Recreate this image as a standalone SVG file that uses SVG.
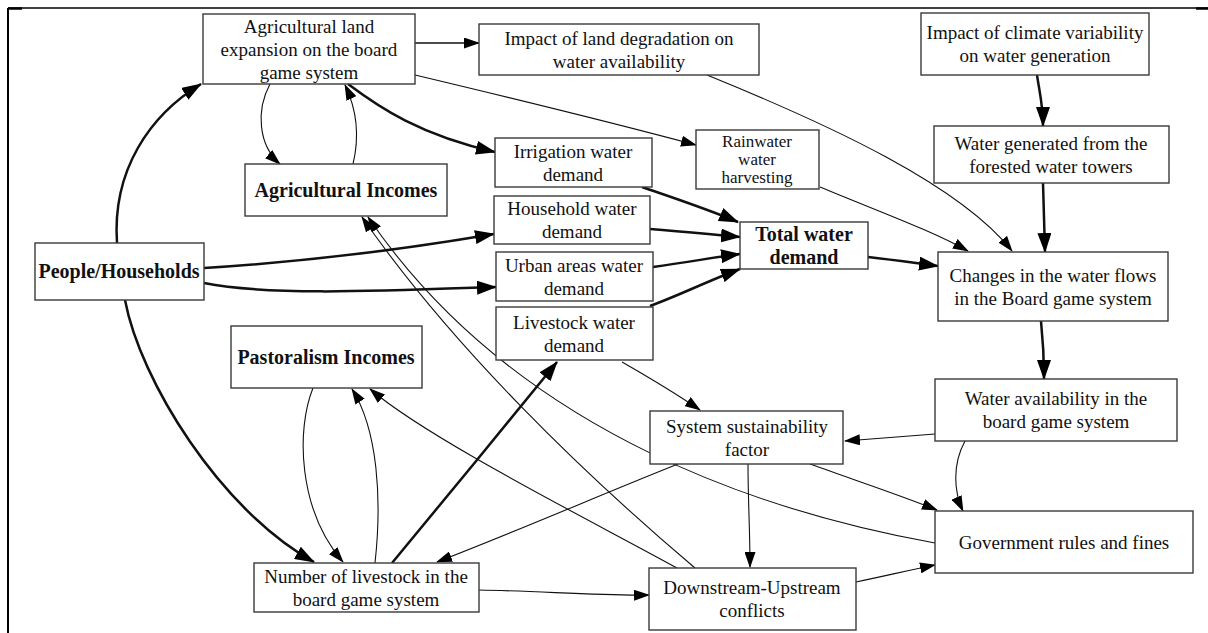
<svg xmlns="http://www.w3.org/2000/svg" width="1208" height="633" viewBox="0 0 1208 633">
<style>
.n rect{fill:#fff;stroke:#3a3a3a;stroke-width:1.4}
.n text{font-family:"Liberation Serif","Times New Roman",serif;font-size:19px;fill:#111;text-anchor:middle}
.n text.b{font-weight:bold;font-size:20px}
.n text.s{font-size:17px}
.e path{fill:none;stroke:#111}
.e .t{stroke-width:1.1;marker-end:url(#a)}
.e .k{stroke-width:2.5;marker-end:url(#b)}
</style>
<defs>
<marker id="a" markerWidth="16" markerHeight="11" refX="15" refY="5.5" orient="auto" markerUnits="userSpaceOnUse"><path d="M0,0 L16,5.5 L0,11 z" fill="#000"/></marker>
<marker id="b" markerWidth="20" markerHeight="14" refX="19" refY="7" orient="auto" markerUnits="userSpaceOnUse"><path d="M0,0 L20,7 L0,14 z" fill="#000"/></marker>
</defs>
<rect width="1208" height="633" fill="#fff"/>
<g id="frame" stroke="#000" fill="none">
<line x1="8" y1="8" x2="1208" y2="8" stroke-width="1.3"/>
<line x1="8" y1="8.5" x2="22" y2="8.5" stroke-width="2.5"/>
<line x1="1196" y1="8.5" x2="1208" y2="8.5" stroke-width="2.5"/>
<line x1="8" y1="8" x2="8" y2="633" stroke-width="2"/>
</g>
<g id="connectors" class="e">
<path class="k" d="M117,243 C112,170 150,115 201,84"/>
<path class="k" d="M125,300 C140,380 220,510 314,562"/>
<path class="k" d="M204,268 C300,262 400,250 494,234"/>
<path class="k" d="M204,283 C270,296 380,291 496,287"/>
<path class="t" d="M415,43 L479,43" style="stroke-width:1.4"/>
<path class="t" d="M270,84 C256,110 258,145 280,164"/>
<path class="t" d="M353,164 C360,135 357,110 345,85"/>
<path class="k" d="M348,84 C380,108 420,135 495,152"/>
<path class="t" d="M415,75 C520,100 610,122 696,145"/>
<path class="t" d="M707,75 C830,125 960,185 1012,251"/>
<path class="t" d="M820,187 C880,212 930,230 968,251"/>
<path class="k" d="M1037,75 C1040,95 1043,105 1043,126"/>
<path class="k" d="M1043,183 L1045,252"/>
<path class="k" d="M642,187 C680,200 710,210 738,222"/>
<path class="k" d="M650,229 C690,232 715,235 740,237"/>
<path class="k" d="M653,267 C690,262 715,257 740,254"/>
<path class="k" d="M650,306 C680,295 710,280 740,269"/>
<path class="k" d="M868,257 C895,260 915,263 938,266"/>
<path class="k" d="M1041,321 C1043,340 1044,360 1044,379"/>
<path class="t" d="M935,434 L845,441"/>
<path class="t" d="M965,441 C952,465 954,492 963,511"/>
<path class="t" d="M622,362 C650,378 675,393 700,410"/>
<path class="t" d="M810,464 C860,482 900,495 937,510"/>
<path class="t" d="M678,464 C600,495 520,530 437,562"/>
<path class="t" d="M748,464 C748,500 750,530 750,567"/>
<path class="t" d="M479,590 C540,591 600,596 649,595"/>
<path class="t" d="M856,582 C885,576 910,570 935,565"/>
<path class="k" d="M392,563 C440,505 510,420 557,362"/>
<path class="t" d="M375,563 C382,500 378,430 352,389"/>
<path class="t" d="M313,388 C296,430 298,510 343,562"/>
<path class="t" d="M677,568 C590,520 430,440 370,389"/>
<path class="t" d="M695,568 C585,475 452,347 362,217"/>
<path class="t" d="M935,543 C780,515 520,440 368,217"/>
</g>
<g id="n-agland" class="n"><rect x="203" y="14" width="212" height="70"/><text x="309" y="33">Agricultural land</text><text x="309" y="56">expansion on the board</text><text x="309" y="79">game system</text></g>
<g id="n-landdeg" class="n"><rect x="479" y="24" width="280" height="51"/><text x="619" y="45">Impact of land degradation on</text><text x="619" y="68">water availability</text></g>
<g id="n-climate" class="n"><rect x="921" y="13" width="228" height="62"/><text x="1035" y="39">Impact of climate variability</text><text x="1035" y="62">on water generation</text></g>
<g id="n-watergen" class="n"><rect x="934" y="126" width="235" height="57"/><text x="1051" y="150">Water generated from the</text><text x="1051" y="173">forested water towers</text></g>
<g id="n-irrig" class="n"><rect x="495" y="138" width="157" height="49"/><text x="573" y="158">Irrigation water</text><text x="573" y="181">demand</text></g>
<g id="n-rain" class="n"><rect x="696" y="130" width="123" height="59"/><text class="s" x="757" y="147">Rainwater</text><text class="s" x="757" y="165">water</text><text class="s" x="757" y="183">harvesting</text></g>
<g id="n-agincome" class="n"><rect x="245" y="164" width="202" height="52"/><text class="b" x="346" y="197">Agricultural Incomes</text></g>
<g id="n-household" class="n"><rect x="494" y="196" width="156" height="48"/><text x="572" y="215">Household water</text><text x="572" y="238">demand</text></g>
<g id="n-urban" class="n"><rect x="496" y="252" width="157" height="49"/><text x="574" y="272">Urban areas water</text><text x="574" y="295">demand</text></g>
<g id="n-livewater" class="n"><rect x="496" y="307" width="157" height="53"/><text x="574" y="329">Livestock water</text><text x="574" y="352">demand</text></g>
<g id="n-total" class="n"><rect x="740" y="222" width="128" height="47"/><text class="b" x="804" y="241">Total water</text><text class="b" x="804" y="264">demand</text></g>
<g id="n-changes" class="n"><rect x="938" y="252" width="230" height="69"/><text x="1053" y="282">Changes in the water flows</text><text x="1053" y="305">in the Board game system</text></g>
<g id="n-avail" class="n"><rect x="935" y="379" width="242" height="62"/><text x="1056" y="405">Water availability in the</text><text x="1056" y="428">board game system</text></g>
<g id="n-sustain" class="n"><rect x="650" y="411" width="193" height="53"/><text x="747" y="433">System sustainability</text><text x="747" y="456">factor</text></g>
<g id="n-gov" class="n"><rect x="935" y="511" width="258" height="62"/><text x="1064" y="549">Government rules and fines</text></g>
<g id="n-conflict" class="n"><rect x="649" y="568" width="207" height="62"/><text x="752" y="594">Downstream-Upstream</text><text x="752" y="617">conflicts</text></g>
<g id="n-livestock" class="n"><rect x="254" y="563" width="225" height="49"/><text x="366" y="583">Number of livestock in the</text><text x="366" y="606">board game system</text></g>
<g id="n-people" class="n"><rect x="35" y="243" width="169" height="57"/><text class="b" x="119" y="278">People/Households</text></g>
<g id="n-pastoral" class="n"><rect x="231" y="326" width="191" height="62"/><text class="b" x="326" y="364">Pastoralism Incomes</text></g>
</svg>
